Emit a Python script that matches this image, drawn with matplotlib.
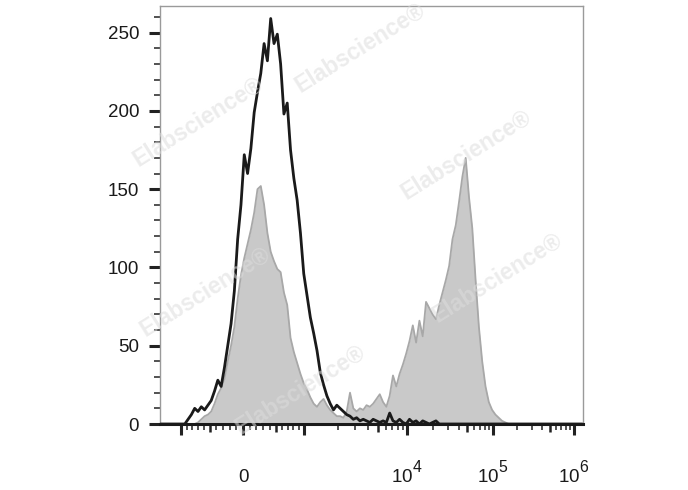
import numpy as np
import matplotlib.pyplot as plt
from matplotlib.ticker import MultipleLocator

plt.rcParams['font.family'] = ['Liberation Sans', 'DejaVu Sans']
plt.rcParams['mathtext.fontset'] = 'custom'
plt.rcParams['mathtext.rm'] = 'Liberation Sans'

# bigger, higher exponents like the cytometer software draws them
try:
    import matplotlib._mathtext as _mt
    _mt.SHRINK_FACTOR = 0.85
    _mt.FontConstantsBase.sup1 = 1.0
except Exception:
    pass

# histogram counts per display channel bin (128 bins of 8 channels)
control = [0, 0, 0, 0, 0, 0, 0, 0,
           3, 6, 10, 8, 11, 9, 12, 15,
           21, 28, 24, 36, 50, 64, 85, 118,
           140, 172, 160, 176, 199, 212, 224, 243,
           232, 259, 243, 249, 230, 198, 205, 175,
           157, 143, 122, 96, 82, 68, 58, 47,
           33, 25, 18, 13, 9, 12, 10, 8,
           6, 5, 3, 4, 2, 3, 2, 1,
           3, 2, 1, 2, 1, 7, 2, 1,
           3, 1, 0, 3, 1, 2, 0, 2,
           1, 0, 1, 2, 0, 0, 0, 0,
           0, 0, 0, 0, 0, 0, 0, 0,
           0, 0, 0, 0, 0, 0, 0, 0,
           0, 0, 0, 0, 0, 0, 0, 0,
           0, 0, 0, 0, 0, 0, 0, 0,
           0, 0, 0, 0, 0, 0, 0, 0]
stained = [0, 0, 0, 0, 0, 0, 0, 0,
           0, 0, 0, 1, 3, 5, 6, 8,
           13, 19, 23, 29, 40, 50, 62, 80,
           95, 106, 115, 124, 135, 150, 152, 140,
           122, 110, 104, 99, 97, 84, 76, 55,
           46, 39, 32, 26, 22, 17, 13, 11,
           14, 16, 12, 9, 7, 5, 5, 4,
           8, 20, 10, 8, 10, 9, 12, 11,
           13, 16, 19, 14, 11, 18, 31, 24,
           32, 38, 45, 53, 63, 52, 66, 56,
           78, 74, 70, 67, 76, 84, 92, 101,
           118, 127, 142, 158, 170, 145, 125, 92,
           62, 40, 24, 14, 9, 6, 4, 2,
           1, 0, 0, 0, 0, 0, 0, 0,
           0, 0, 0, 0, 0, 0, 0, 0,
           0, 0, 0, 0, 0, 0, 0, 0]

# biexponential display: fluorescence value -> channel
anchor_vals = [-1000, -500, 0, 500, 1000, 2000, 5000, 1e4, 1e5, 1e6]
anchor_chan = [51, 121, 201, 281, 349, 431, 528, 598, 806, 1002]

major_vals = [-1000, 0, 1000, 1e4, 1e5, 1e6]
major_labels = ['', '0', '', r'$\mathregular{10^{4}}$', r'$\mathregular{10^{5}}$', r'$\mathregular{10^{6}}$']
mid_vals = [-500, 500, 5000, 5e4, 5e5]


def to_chan(v):
    return np.interp(np.arcsinh(np.asarray(v, float) / 1500),
                     np.arcsinh(np.array(anchor_vals) / 1500), anchor_chan)


minor_vals = [v for v in range(-900, 1000, 100) if v not in (-500, 0, 500)]
for dec in [1e3, 1e4, 1e5]:
    minor_vals += [k * dec for k in range(2, 10) if k != 5]

edges = np.arange(0, 1025, 8)
centers = edges[:-1] + 4

fig = plt.figure(figsize=(6.88, 4.9), dpi=100)
ax = fig.add_axes([160 / 688, 66 / 490, 423 / 688, 418 / 490])

ax.fill_between(centers, stained, color='#c9c9c9', lw=0, zorder=1)
ax.plot(centers, stained, color='#a8a8a8', lw=1.3, zorder=2)
ax.plot(centers, control, color='#1a1a1a', lw=2.0, zorder=3)

ax.set_xlim(0, 1024)
ax.set_ylim(0, 267)

ax.set_xticks(to_chan(major_vals))
ax.set_xticklabels(major_labels)
ax.set_xticks(to_chan(minor_vals), minor=True)
ax.set_yticks([0, 50, 100, 150, 200, 250])
ax.yaxis.set_minor_locator(MultipleLocator(10))

ax.tick_params(which='major', direction='out', length=8, width=2.2,
               color='#222222', labelsize=13.5, labelcolor='#1a1a1a')
ax.tick_params(which='minor', direction='out', length=4.3, width=1.1, color='#222222')
ax.tick_params(axis='x', which='major', pad=34)
ax.tick_params(axis='y', which='major', pad=7)
for lab in ax.get_xticklabels():
    lab.set_verticalalignment('baseline')

sec = ax.secondary_xaxis('bottom')
sec.spines['bottom'].set_visible(False)
sec.set_xticks(to_chan(mid_vals))
sec.tick_params(direction='out', length=6, width=1.8, color='#222222', labelbottom=False)

for side in ['top', 'right', 'left']:
    ax.spines[side].set_color('#9a9a9a')
    ax.spines[side].set_linewidth(1.0)
ax.spines['bottom'].set_color('#1a1a1a')
ax.spines['bottom'].set_linewidth(2.2)

# watermark
for wx, wy in [(198, 122), (360, 48), (466, 155), (205, 292), (497, 278), (300, 390)]:
    fig.text(wx / 688, 1 - wy / 490, 'Elabscience\u00ae', rotation=32,
             ha='center', va='center', fontsize=16.5, fontweight='bold',
             color='#dddddd', alpha=0.55, zorder=10)

fig.savefig('out.png', dpi=100)
